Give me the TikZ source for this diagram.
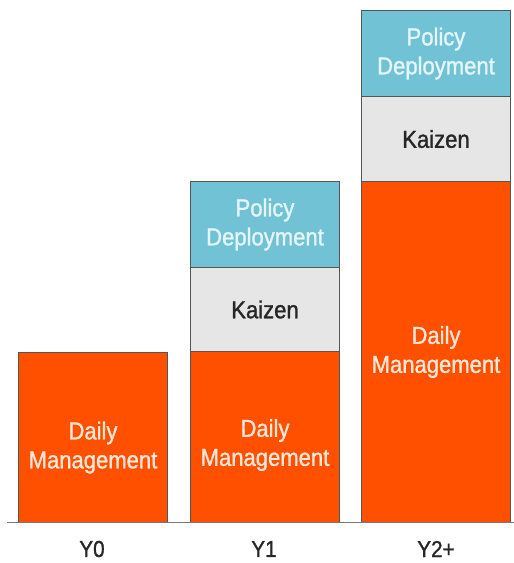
\documentclass[tikz,border=0pt]{standalone}
\usepackage{fontspec}
\setmainfont{Liberation Sans}[FakeStretch=0.9,FakeBold=1.2]
\definecolor{dmorange}{HTML}{FF5000}
\definecolor{pdblue}{HTML}{72C2D6}
\definecolor{kzgray}{HTML}{E6E6E6}
\definecolor{edgegray}{HTML}{555555}
\definecolor{lighttext}{HTML}{FCE6D6}
\definecolor{bluetext}{HTML}{E4F6FA}
\begin{document}
\begin{tikzpicture}[x=1pt,y=-1pt,
  seg/.style={draw=edgegray,line width=1pt,anchor=north west,inner sep=0pt,minimum width=149pt,align=center,font=\fontsize{24.5}{29}\selectfont},
  dm/.style={seg,fill=dmorange,text=lighttext},
  kz/.style={seg,fill=kzgray,text=black!85},
  pd/.style={seg,fill=pdblue,text=bluetext},
  dmtext/.style={align=center,inner sep=0pt,text=lighttext,font=\fontsize{24.5}{29}\selectfont},
  lab/.style={font=\fontsize{23}{26}\selectfont,text=black!85}]
\useasboundingbox (0,0) rectangle (514,563);
% Y0
\node[dm,minimum height=170pt] (dm0) at (18,352) {};
\node[dmtext] (dm0t) at ([yshift=-10pt]dm0.center) {Daily\\Management};
% Y1
\node[dm,minimum height=171pt] (dm1) at (190,351) {};
\node[dmtext] (dm1t) at ([yshift=-8pt]dm1.center) {Daily\\Management};
\node[kz,minimum height=84pt] (kz1) at (190,267) {Kaizen};
\node[pd,minimum height=86pt] (pd1) at (190,181) {Policy\\Deployment};
% Y2+
\node[dm,minimum height=341pt] (dm2) at (361,181) {Daily\\Management};
\node[kz,minimum height=85pt] (kz2) at (361,96) {Kaizen};
\node[pd,minimum height=86pt] (pd2) at (361,10) {Policy\\Deployment};
% baseline
\coordinate (bl) at (7,522.5);
\coordinate (br) at (514,522.5);
\draw[edgegray!80,line width=1.8pt] (bl) -- (br);
% labels
\node[lab] (l0) at (92,549) {Y0};
\node[lab] (l1) at (264,549) {Y1};
\node[lab] (l2) at (436,549) {Y2+};
\end{tikzpicture}
\end{document}
